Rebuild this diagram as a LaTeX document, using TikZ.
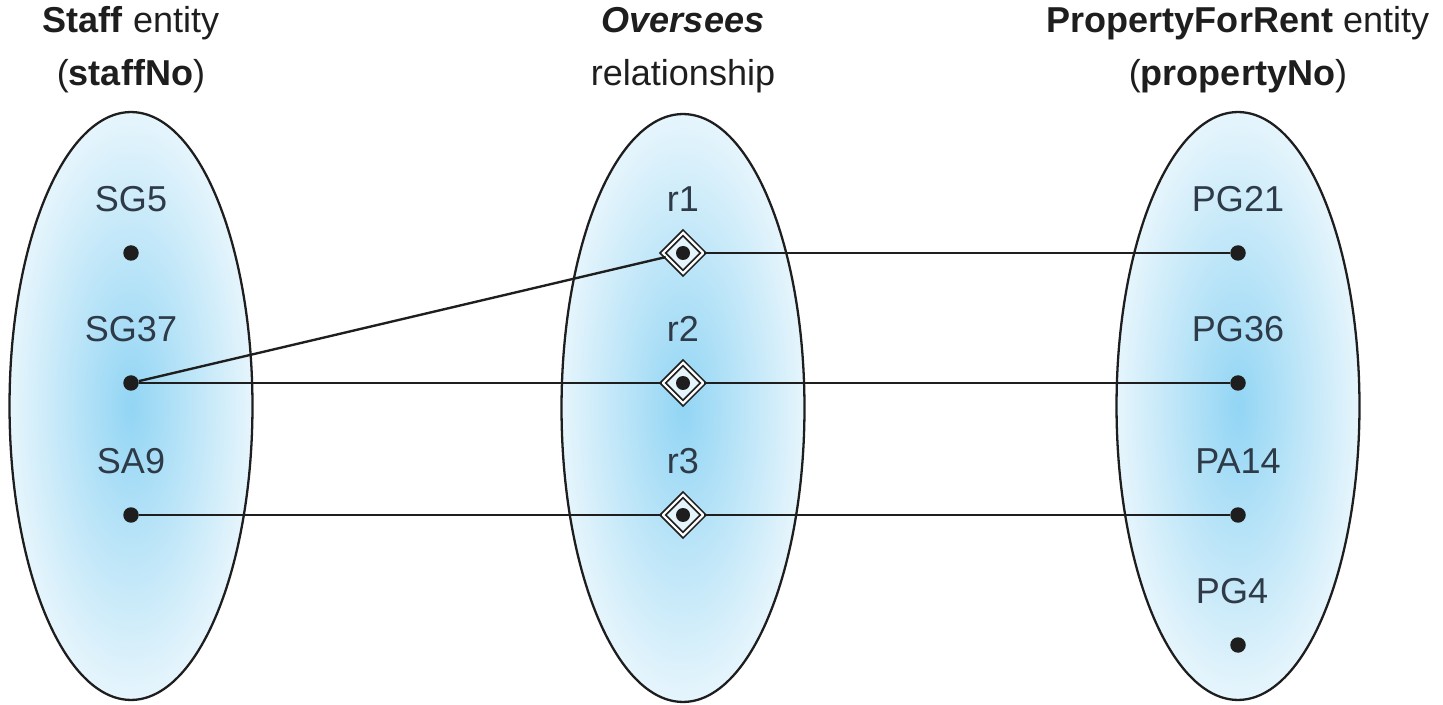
\documentclass[tikz,border=0pt]{standalone}
\usepackage{fontspec}
\setmainfont{Liberation Sans}
\usetikzlibrary{positioning,shapes.geometric}
\definecolor{Ink}{HTML}{1E1E1E}
\definecolor{Label}{HTML}{2E3A47}
\definecolor{SkyIn}{HTML}{92D5F4}
\definecolor{SkyOut}{HTML}{E6F5FC}
\tikzset{
  entityset/.style={
    ellipse, draw=Ink, line width=1.3pt, inner color=SkyIn, outer color=SkyOut,
    minimum width=4.86cm, minimum height=11.76cm
  },
  member/.style={circle, fill=Ink, inner sep=0pt, minimum size=0.31cm},
  relmark/.style={
    diamond, draw=Ink, double=white, double distance=1.3pt, line width=1pt,
    fill=SkyOut, inner sep=0pt, minimum size=0.82cm
  },
  setlabel/.style={text=Label, inner sep=0pt, font=\fontsize{20.5}{24}\selectfont},
  settitle/.style={align=center, text=Ink, font=\fontsize{20.5}{30}\selectfont},
  link/.style={draw=Ink, line width=1.35pt}
}
\begin{document}
\begin{tikzpicture}[x=0.02cm,y=-0.02cm]
    \useasboundingbox (0,0) rectangle (1443,705);
    % the three sets
    \node[entityset] (staffset) at (131,406) {};
    \node[entityset] (relset) at (683,408) {};
    \node[entityset] (propset) at (1238,406) {};
    \node[settitle] (stafftitle) at (131,50) {\textbf{Staff} entity\\(\textbf{staffNo})};
    \node[settitle] (reltitle) at (683,50) {\textit{\textbf{Oversees}}\\relationship};
    \node[settitle] (proptitle) at (1238,50) {\textbf{PropertyForRent} entity\\(\textbf{propertyNo})};
    % Staff members
    \node[member] (sg5) at (131,253) {};
    \node[member] (sg37) at (131,383) {};
    \node[member] (sa9) at (131,515) {};
    \node[setlabel,above=0.66cm of sg5] {SG5};
    \node[setlabel,above=0.66cm of sg37] {SG37};
    \node[setlabel,above=0.66cm of sa9] {SA9};
    % relationship occurrences
    \node[relmark] (r1) at (683,253) {};
    \node[relmark] (r2) at (683,383) {};
    \node[relmark] (r3) at (683,515) {};
    \node[setlabel,above=0.82cm of r1.center] {r1};
    \node[setlabel,above=0.82cm of r2.center] {r2};
    \node[setlabel,above=0.82cm of r3.center] {r3};
    % PropertyForRent members
    \node[member] (pg21) at (1238,253) {};
    \node[member] (pg36) at (1238,383) {};
    \node[member] (pa14) at (1238,515) {};
    \node[member] (pg4) at (1238,645) {};
    \node[setlabel,above=0.66cm of pg21] {PG21};
    \node[setlabel,above=0.66cm of pg36] {PG36};
    \node[setlabel,above=0.66cm of pa14] {PA14};
    \node[setlabel,above=0.66cm of pg4,xshift=-0.12cm] {PG4};
    % links
    \draw[link] (sg37)--(r1);
    \draw[link] (r1)--(pg21);
    \draw[link] (sg37)--(r2);
    \draw[link] (r2)--(pg36);
    \draw[link] (sa9)--(r3);
    \draw[link] (r3)--(pa14);
    \node[member,minimum size=0.28cm] at (r1) {};
    \node[member,minimum size=0.28cm] at (r2) {};
    \node[member,minimum size=0.28cm] at (r3) {};
  \end{tikzpicture}
\end{document}
